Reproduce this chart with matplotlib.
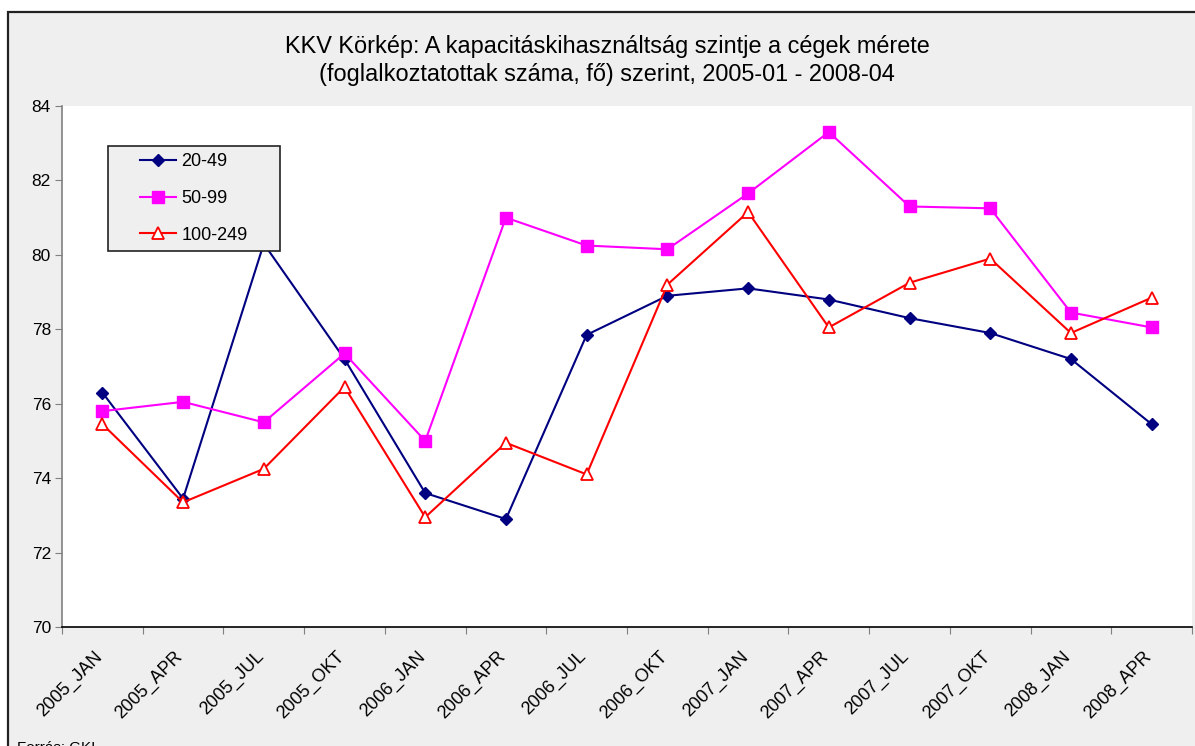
import numpy as np
import matplotlib
matplotlib.use("Agg")
import matplotlib.pyplot as plt
from matplotlib.patches import Rectangle

plt.rcParams["font.family"] = ["Liberation Sans", "DejaVu Sans"]

periods = ["2005_JAN", "2005_APR", "2005_JUL", "2005_OKT",
           "2006_JAN", "2006_APR", "2006_JUL", "2006_OKT",
           "2007_JAN", "2007_APR", "2007_JUL", "2007_OKT",
           "2008_JAN", "2008_APR"]
s20_49 = [76.3, 73.45, 80.3, 77.2, 73.6, 72.9, 77.85, 78.9,
          79.1, 78.8, 78.3, 77.9, 77.2, 75.45]
s50_99 = [75.8, 76.05, 75.5, 77.35, 75.0, 81.0, 80.25, 80.15,
          81.65, 83.3, 81.3, 81.25, 78.45, 78.05]
s100_249 = [75.45, 73.35, 74.25, 76.45, 72.95, 74.95, 74.1, 79.2,
            81.15, 78.05, 79.25, 79.9, 77.9, 78.85]
labels = ["20-49", "50-99", "100-249"]

W, H = 1195, 746
fig = plt.figure(figsize=(W / 100, H / 100), dpi=100)
fig.patch.set_facecolor("white")

# outer chart frame (runs off the right/bottom edge like the source)
fig.patches.append(Rectangle((8 / W, -0.1), 1.2, 1 - 12 / H + 0.1,
                             transform=fig.transFigure, facecolor="#efefef",
                             edgecolor="#222222", lw=1.6, zorder=-1))

ax = fig.add_axes([62 / W, 1 - 627 / H, 1130 / W, 521 / H])
ax.set_facecolor("white")
x = np.arange(len(periods))

ax.plot(x, s20_49, color="#000080", lw=1.5, marker="D", ms=6.5,
        mfc="#000080", mec="#000080", label=labels[0], zorder=3)
ax.plot(x, s50_99, color="#ff00ff", lw=1.5, marker="s", ms=8,
        mfc="#ff00ff", mec="#ff00ff", label=labels[1], zorder=4)
ax.plot(x, s100_249, color="#ff0000", lw=1.5, marker="^", ms=8,
        mfc="white", mec="#ff0000", mew=1.3, label=labels[2], zorder=5)

ax.set_xlim(-0.5, len(periods) - 0.5)
ax.set_ylim(70, 84)
ax.set_yticks(np.arange(70, 85, 2))
ax.tick_params(axis="y", labelsize=12.5, length=5, color="#808080", pad=3)

ax.set_xticks(np.arange(-0.5, len(periods), 1))
ax.set_xticklabels([])
ax.tick_params(axis="x", length=5, color="#808080")
for i, p in enumerate(periods):
    ax.text(i - 0.11, -0.04, p, transform=ax.get_xaxis_transform(),
            rotation=45, ha="right", va="top", rotation_mode="anchor",
            fontsize=13)

for s in ["top", "right"]:
    ax.spines[s].set_visible(False)
ax.spines["left"].set_color("#808080")
ax.spines["left"].set_linewidth(1.2)
ax.spines["bottom"].set_color("black")
ax.spines["bottom"].set_linewidth(1.2)

# legend box
bx0, bx1 = (108 - 62) / 1130, (280 - 62) / 1130
by0, by1 = (627 - 251) / 521, (627 - 146) / 521
ax.add_patch(Rectangle((bx0, by0), bx1 - bx0, by1 - by0, transform=ax.transAxes,
                       facecolor="#efefef", edgecolor="#222222", lw=1.2,
                       zorder=10, clip_on=False))
ax.legend(loc="upper left", bbox_to_anchor=((140 - 62) / 1130, (627 - 153) / 521),
          frameon=False, fontsize=13, handlelength=2.0, handletextpad=0.3,
          labelspacing=1.1, borderpad=0, borderaxespad=0).set_zorder(11)

fig.text(607 / W, 1 - 47 / H, "KKV Körkép: A kapacitáskihasználtság szintje a cégek mérete",
         ha="center", va="center", fontsize=16.9)
fig.text(607 / W, 1 - 75 / H, "(foglalkoztatottak száma, fő) szerint, 2005-01 - 2008-04",
         ha="center", va="center", fontsize=16.9)
fig.text(17 / W, 1 - 741 / H, "Forrás: GKI", ha="left", va="top", fontsize=11)

fig.savefig("out.png", dpi=100)
